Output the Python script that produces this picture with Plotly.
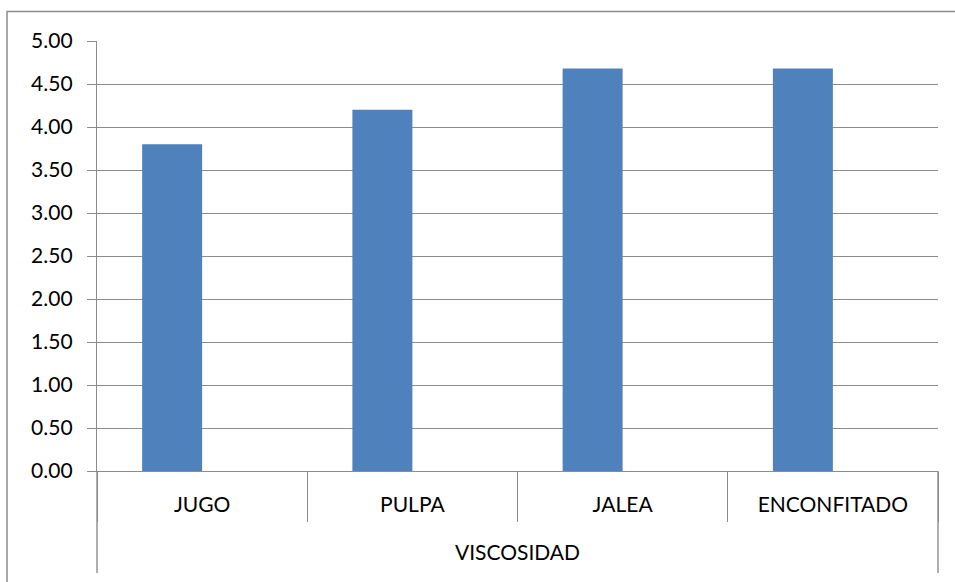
import plotly.graph_objects as go

# Data
group_label = "VISCOSIDAD"
categories = ["JUGO", "PULPA", "JALEA", "ENCONFITADO"]
viscosity = [3.80, 4.20, 4.68, 4.68]
companion = [None, None, None, None]  # empty second series in the cluster
y_ticks = [0, 0.5, 1, 1.5, 2, 2.5, 3, 3.5, 4, 4.5, 5]
y_tick_text = [f"{v:.2f}" for v in y_ticks]

W, H = 955, 582
ML, MR, MT, MB = 97, 17, 40.5, 111
plot_h = H - MT - MB
plot_w = W - ML - MR

GRID = "#8c8c8c"
LW = 1.4
FONT = dict(family="Lato, 'Open Sans', sans-serif", size=21, color="#000000")

fig = go.Figure()
fig.add_trace(go.Bar(x=categories, y=viscosity, marker=dict(color="#4F81BD", line=dict(width=0)),
                     showlegend=False, hoverinfo="x+y"))
fig.add_trace(go.Bar(x=categories, y=companion, marker=dict(color="#C0504D"),
                     showlegend=False, hoverinfo="skip"))

fig.update_layout(
    width=W, height=H,
    margin=dict(l=ML, r=MR, t=MT, b=MB, pad=0),
    paper_bgcolor="white", plot_bgcolor="white",
    barmode="group", bargap=0.4293, bargroupgap=0,
    font=FONT,
)

fig.update_yaxes(
    range=[0, 5], tickvals=y_ticks, ticktext=y_tick_text,
    showgrid=True, gridcolor=GRID, gridwidth=LW,
    showline=True, linecolor=GRID, linewidth=LW,
    ticks="outside", ticklen=9, tickcolor=GRID, tickwidth=LW,
    ticklabelstandoff=10, zeroline=False, tickfont=FONT,
)
fig.update_xaxes(
    type="category", showgrid=False, showline=True, linecolor=GRID, linewidth=LW,
    ticks="outside", tickson="boundaries", ticklen=50, tickcolor=GRID, tickwidth=LW,
    ticklabelstandoff=15, tickfont=FONT,
)

# Outer edges of the category-axis table, running down past the group label
edge_depth = 102 / plot_h
for xp in (0, 1):
    fig.add_shape(type="line", xref="paper", yref="paper", x0=xp, x1=xp, y0=0, y1=-edge_depth,
                  line=dict(color=GRID, width=LW))

# Group label beneath the categories
fig.add_annotation(text=group_label, xref="paper", yref="paper", x=0.5, y=-81 / plot_h,
                   showarrow=False, font=FONT, xanchor="center", yanchor="middle")

# Chart frame
fig.add_shape(type="rect", xref="paper", yref="paper",
              x0=(7 - ML) / plot_w, x1=(W + 20 - ML) / plot_w,
              y0=-(H + 20 - (H - MB)) / plot_h, y1=(H - MB - 11) / plot_h,
              line=dict(color=GRID, width=1.5), fillcolor="rgba(0,0,0,0)", layer="below")

fig.write_html("out.html")
